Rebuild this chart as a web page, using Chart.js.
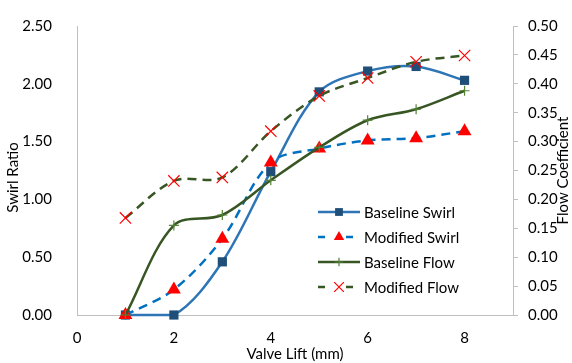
<!DOCTYPE html>
<html>
<head>
<meta charset="utf-8">
<script src="https://cdn.jsdelivr.net/npm/chart.js@4/dist/chart.umd.min.js"></script>
<style>
  html, body { margin: 0; padding: 0; background: #fff; }
  #wrap { width: 572px; height: 363px; }
</style>
</head>
<body>
<div id="wrap"><canvas id="myChart" width="572" height="363"></canvas></div>
<script>
// Data
let valveLift = [1, 2, 3, 4, 5, 6, 7, 8];
let baselineSwirl = [0.00, 0.00, 0.46, 1.24, 1.93, 2.11, 2.15, 2.03];
let modifiedSwirl = [0.00, 0.22, 0.66, 1.32, 1.44, 1.51, 1.53, 1.59];
let baselineFlow = [0.000, 0.155, 0.173, 0.233, 0.290, 0.337, 0.356, 0.388];
let modifiedFlow = [0.168, 0.232, 0.238, 0.318, 0.379, 0.410, 0.438, 0.449];

let xTicks = [0, 2, 4, 6, 8];
let seriesNames = ['Baseline Swirl', 'Modified Swirl', 'Baseline Flow', 'Modified Flow'];

const FONT = 'Lato, "Open Sans", sans-serif';

function toPoints(values) {
    return values.map((v, i) => ({ x: valveLift[i], y: v }));
}

// Series styles
let datasets = [{
    label: seriesNames[0],
    data: toPoints(baselineSwirl),
    yAxisID: 'y',
    borderColor: '#2e75b6',
    borderWidth: 2.5,
    pointStyle: 'rect',
    pointRadius: 6.5,
    pointBackgroundColor: '#1f4e79',
    pointBorderColor: '#1f4e79',
    pointBorderWidth: 0
}, {
    label: seriesNames[1],
    data: toPoints(modifiedSwirl),
    yAxisID: 'y',
    borderColor: '#0070c0',
    borderWidth: 2.5,
    borderDash: [9, 6],
    pointStyle: 'triangle',
    pointRadius: 8,
    pointBackgroundColor: '#ff0000',
    pointBorderColor: '#ff0000',
    pointBorderWidth: 0
}, {
    label: seriesNames[2],
    data: toPoints(baselineFlow),
    yAxisID: 'y2',
    borderColor: '#375623',
    borderWidth: 2.5,
    pointStyle: 'cross',
    pointRadius: 5,
    pointBorderColor: '#548235',
    pointBorderWidth: 1.2
}, {
    label: seriesNames[3],
    data: toPoints(modifiedFlow),
    yAxisID: 'y2',
    borderColor: '#375623',
    borderWidth: 2.5,
    borderDash: [9, 6],
    pointStyle: 'crossRot',
    pointRadius: 8,
    pointBorderColor: '#ff0000',
    pointBorderWidth: 1.2
}];

// Excel draws first series at the bottom
datasets.forEach((ds, i) => {
    ds.order = datasets.length - i;
    ds.fill = false;
    ds.tension = 0.33;
    ds.showLine = true;
    ds.clip = false;
});

// Axis titles and the legend inside the plot
const extras = {
    id: 'extras',
    afterDraw(chart) {
        const ctx = chart.ctx;
        const area = chart.chartArea;
        ctx.save();
        ctx.fillStyle = '#000';
        ctx.font = '15px ' + FONT;
        ctx.textAlign = 'center';
        ctx.textBaseline = 'middle';

        ctx.fillText('Valve Lift (mm)', (area.left + area.right) / 2, 354);

        ctx.save();
        ctx.translate(13, (area.top + area.bottom) / 2 + 7);
        ctx.rotate(-Math.PI / 2);
        ctx.fillText('Swirl Ratio', 0, 0);
        ctx.restore();

        ctx.save();
        ctx.translate(563, (area.top + area.bottom) / 2);
        ctx.rotate(-Math.PI / 2);
        ctx.fillText('Flow Coefficient', 0, 0);
        ctx.restore();

        // legend
        let lx = 318, ly = 212, gap = 25;
        ctx.textAlign = 'left';
        ctx.font = '15px ' + FONT;
        chart.data.datasets.forEach((ds, i) => {
            let y = ly + i * gap;
            ctx.save();
            ctx.strokeStyle = ds.borderColor;
            ctx.lineWidth = ds.borderWidth;
            ctx.setLineDash(ds.borderDash ? [7, 7] : []);
            ctx.beginPath();
            ctx.moveTo(lx, y);
            ctx.lineTo(lx + 42, y);
            ctx.stroke();
            ctx.restore();
            if (ds.borderDash) {
                ctx.fillStyle = '#fff';
                ctx.fillRect(lx + 14, y - 4, 14, 8);
            }
            ctx.save();
            ctx.fillStyle = ds.pointBackgroundColor || ds.pointBorderColor;
            ctx.strokeStyle = ds.pointBorderColor;
            ctx.lineWidth = ds.pointBorderWidth || 1;
            Chart.helpers.drawPoint(ctx, {
                pointStyle: ds.pointStyle,
                radius: ds.pointStyle === 'triangle' ? 6 : ds.pointRadius * 0.85,
                borderWidth: ds.pointBorderWidth
            }, lx + 21, y);
            ctx.restore();
            ctx.fillStyle = '#000';
            ctx.fillText(ds.label, lx + 46, y + 1);
        });
        ctx.restore();
    }
};

const config = {
    type: 'line',
    data: { datasets: datasets },
    options: {
        responsive: false,
        animation: false,
        layout: { padding: { top: 21, left: 0, right: 0, bottom: 0 } },
        plugins: {
            legend: { display: false },
            tooltip: { enabled: false }
        },
        scales: {
            x: {
                type: 'linear',
                min: 0,
                max: 9,
                ticks: {
                    stepSize: 2,
                    padding: 6,
                    color: '#000',
                    font: { family: FONT, size: 15 }
                },
                afterBuildTicks: (scale) => {
                    scale.ticks = xTicks.map(v => ({ value: v }));
                },
                afterFit: (scale) => { scale.height = 48; },
                grid: { display: false },
                border: { display: true, color: '#bfbfbf', width: 1 }
            },
            y: {
                position: 'left',
                min: 0,
                max: 2.5,
                ticks: {
                    stepSize: 0.5,
                    padding: 17,
                    color: '#000',
                    font: { family: FONT, size: 15 },
                    callback: (v) => v.toFixed(2)
                },
                afterFit: (scale) => { scale.width = 77; },
                grid: { display: false },
                border: { display: true, color: '#bfbfbf', width: 1 }
            },
            y2: {
                position: 'right',
                min: 0,
                max: 0.5,
                ticks: {
                    stepSize: 0.05,
                    padding: 10,
                    color: '#000',
                    font: { family: FONT, size: 15 },
                    callback: (v) => v.toFixed(2)
                },
                afterFit: (scale) => { scale.width = 59; },
                grid: { drawOnChartArea: false, tickLength: 5, color: '#bfbfbf' },
                border: { display: true, color: '#bfbfbf', width: 1 }
            }
        }
    },
    plugins: [extras]
};

const theChart = new Chart(document.getElementById('myChart').getContext('2d'), config);
</script>
</body>
</html>
